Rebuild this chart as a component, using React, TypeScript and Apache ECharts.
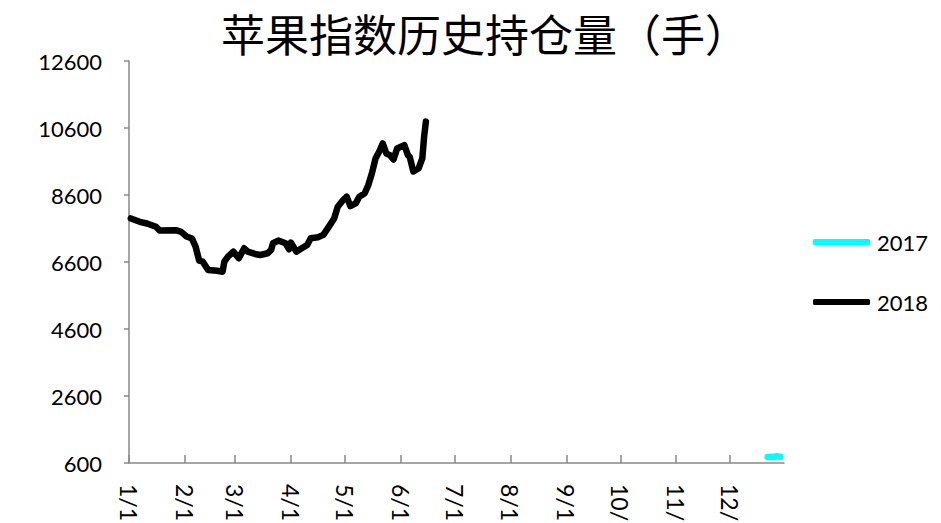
import React, { useEffect, useRef } from "react";
import * as echarts from "echarts";

const TITLE = "苹果指数历史持仓量（手）";
const MONTH_DAYS = [31, 28, 31, 30, 31, 30, 31, 31, 30, 31, 30, 31];

const dates2017 = ["12/22", "12/25", "12/26", "12/27", "12/28", "12/29"];
const values2017 = [780, 790, 790, 800, 790, 790];

const dates2018 = [
  "1/2", "1/7", "1/11", "1/16", "1/18", "1/27", "1/30", "2/2", "2/5", "2/7",
  "2/9", "2/11", "2/14", "2/19", "2/22", "2/23", "2/25", "2/28", "3/3", "3/6",
  "3/8", "3/12", "3/15", "3/19", "3/21", "3/22", "3/25", "3/29", "3/31", "4/1",
  "4/4", "4/7", "4/10", "4/12", "4/16", "4/19", "4/22", "4/25", "4/27", "4/30",
  "5/2", "5/4", "5/7", "5/9", "5/12", "5/14", "5/16", "5/18", "5/20", "5/22",
  "5/24", "5/26", "5/28", "5/30", "6/3", "6/5", "6/6", "6/8", "6/11", "6/13",
  "6/14", "6/15",
];
const values2018 = [
  7900, 7800, 7750, 7650, 7540, 7550, 7500, 7360, 7300, 7060,
  6640, 6610, 6360, 6340, 6310, 6610, 6760, 6910, 6710, 7010,
  6910, 6840, 6810, 6860, 6960, 7160, 7240, 7160, 6980, 7180,
  6910, 7010, 7110, 7310, 7340, 7410, 7650, 7900, 8250, 8450,
  8550, 8270, 8350, 8550, 8650, 8900, 9250, 9690, 9890, 10140,
  9840, 9790, 9660, 9990, 10090, 9790, 9740, 9300, 9400, 9690,
  10340, 10790,
];

const Y_MIN = 600;
const Y_MAX = 12600;
const Y_STEP = 2000;

const categories: string[] = [];
MONTH_DAYS.forEach((n, m) => {
  for (let d = 1; d <= n; d++) categories.push(`${m + 1}/${d}`);
});

const FONT = "Lato";

export default function App() {
  const ref = useRef<HTMLDivElement>(null);
  useEffect(() => {
    if (!ref.current) return;
    const chart = echarts.init(ref.current, undefined, { renderer: "svg" });
    const isMonthStart = (_i: number, v: string) => v.split("/")[1] === "1";
    chart.setOption({
      animation: false,
      title: {
        text: TITLE,
        left: 480,
        textAlign: "center",
        top: 6,
        textStyle: {
          fontFamily: "Noto Sans CJK SC",
          fontSize: 44,
          fontWeight: "normal",
          color: "#000",
        },
      },
      legend: {
        orient: "vertical",
        left: 813,
        top: 231,
        padding: 0,
        itemGap: 38,
        itemWidth: 57,
        itemHeight: 6,
        icon: "roundRect",
        textStyle: { fontFamily: FONT, fontSize: 22, color: "#000", padding: [0, 0, 0, 2] },
        data: ["2017", "2018"],
      },
      grid: {
        left: 129,
        right: 157,
        top: 61,
        bottom: 60,
        containLabel: false,
        outerBoundsMode: "none",
      },
      xAxis: {
        type: "category",
        boundaryGap: false,
        data: categories,
        axisLine: { lineStyle: { color: "#898989", width: 1.5 } },
        axisTick: {
          inside: true,
          length: 8,
          interval: isMonthStart,
          lineStyle: { color: "#898989", width: 1.5 },
        },
        axisLabel: {
          interval: isMonthStart,
          rotate: -90,
          margin: 21,
          fontFamily: FONT,
          fontSize: 23,
          color: "#000",
          hideOverlap: false,
        },
        splitLine: { show: false },
      },
      yAxis: {
        type: "value",
        min: Y_MIN,
        max: Y_MAX,
        interval: Y_STEP,
        axisLine: { show: true, lineStyle: { color: "#898989", width: 1.5 } },
        axisTick: { show: true, length: 5, lineStyle: { color: "#898989", width: 1.5 } },
        axisLabel: {
          margin: 27,
          fontFamily: FONT,
          fontSize: 22,
          color: "#000",
          formatter: (v: number) => String(v),
        },
        splitLine: { show: false },
      },
      series: [
        {
          name: "2017",
          type: "line",
          data: dates2017.map((d, i) => [d, values2017[i]]),
          showSymbol: false,
          color: "#00FFFF",
          lineStyle: { color: "#00FFFF", width: 6.5, cap: "round", join: "round" },
        },
        {
          name: "2018",
          type: "line",
          data: dates2018.map((d, i) => [d, values2018[i]]),
          showSymbol: false,
          color: "#000000",
          lineStyle: { color: "#000000", width: 6.5, cap: "round", join: "round" },
        },
      ],
    });
    return () => chart.dispose();
  }, []);
  return (
    <div
      ref={ref}
      style={{ position: "fixed", left: 0, top: 0, width: 941, height: 523, background: "#fff" }}
    />
  );
}
